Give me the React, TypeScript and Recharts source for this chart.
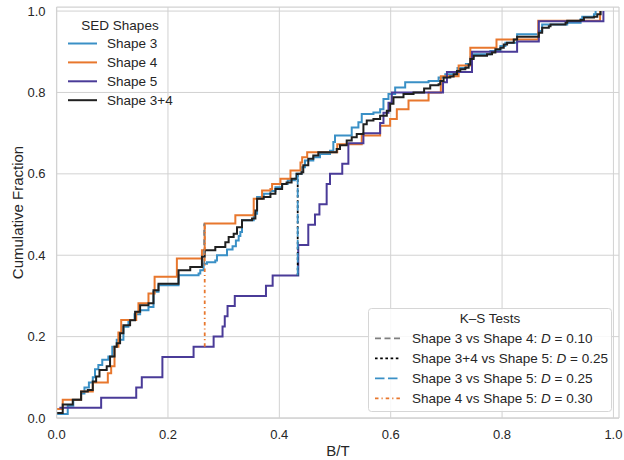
import React from 'react';
import { LineChart, Line, XAxis, YAxis, CartesianGrid, ReferenceLine } from 'recharts';

const FONT = '"Liberation Sans", Arial, Helvetica, sans-serif';
const TEXT = '#262626';
const GRID = '#d2d2d2';

// Tick labels
const xTicks = [0, 0.2, 0.4, 0.6, 0.8, 1.0];
const yTicks = [0, 0.2, 0.4, 0.6, 0.8, 1.0];

// Series names / colours
const seriesNames = ['Shape 3', 'Shape 4', 'Shape 5', 'Shape 3+4'];
const seriesColors = ['#3a90c6', '#e8772d', '#4a3b98', '#202020'];

// Shape 3 ECDF steps
const shape3X = [0.0, 0.02, 0.03, 0.044, 0.05, 0.058, 0.065, 0.069, 0.075, 0.082, 0.093, 0.1, 0.108, 0.12, 0.129, 0.14, 0.15, 0.165, 0.174, 0.183, 0.219, 0.255, 0.258, 0.264, 0.27, 0.285, 0.288, 0.306, 0.316, 0.322, 0.327, 0.33, 0.333, 0.354, 0.36, 0.372, 0.384, 0.393, 0.405, 0.415, 0.428, 0.431, 0.44, 0.446, 0.461, 0.473, 0.491, 0.497, 0.5, 0.53, 0.542, 0.548, 0.569, 0.581, 0.587, 0.596, 0.608, 0.626, 0.668, 0.686, 0.698, 0.72, 0.735, 0.743, 0.749, 0.779, 0.797, 0.806, 0.827, 0.866, 0.872, 0.917, 0.941, 0.944, 0.965, 0.968];
const shape3Y = [0.01, 0.03, 0.045, 0.06, 0.075, 0.087, 0.1, 0.12, 0.13, 0.143, 0.151, 0.175, 0.192, 0.224, 0.241, 0.255, 0.265, 0.273, 0.31, 0.326, 0.351, 0.355, 0.363, 0.379, 0.383, 0.387, 0.4, 0.414, 0.422, 0.436, 0.447, 0.457, 0.486, 0.502, 0.543, 0.551, 0.558, 0.567, 0.575, 0.584, 0.588, 0.6, 0.616, 0.633, 0.641, 0.649, 0.657, 0.678, 0.694, 0.714, 0.727, 0.747, 0.751, 0.759, 0.784, 0.796, 0.812, 0.825, 0.828, 0.837, 0.845, 0.86, 0.87, 0.886, 0.894, 0.902, 0.914, 0.922, 0.943, 0.951, 0.967, 0.971, 0.98, 0.986, 0.992, 1.0];

// Shape 4 ECDF steps
const shape4X = [0.0, 0.011, 0.044, 0.065, 0.092, 0.098, 0.104, 0.111, 0.116, 0.143, 0.147, 0.165, 0.176, 0.216, 0.261, 0.266, 0.321, 0.354, 0.369, 0.384, 0.387, 0.402, 0.42, 0.438, 0.441, 0.45, 0.504, 0.548, 0.581, 0.599, 0.611, 0.632, 0.668, 0.69, 0.722, 0.743, 0.79, 0.865, 0.976];
const shape4Y = [0.022, 0.045, 0.065, 0.087, 0.11, 0.127, 0.175, 0.21, 0.241, 0.26, 0.282, 0.306, 0.347, 0.392, 0.412, 0.478, 0.498, 0.539, 0.559, 0.563, 0.575, 0.588, 0.608, 0.628, 0.641, 0.653, 0.673, 0.694, 0.718, 0.735, 0.759, 0.78, 0.8, 0.84, 0.866, 0.91, 0.93, 0.976, 1.0];

// Shape 5 ECDF steps
const shape5X = [0.005, 0.08, 0.143, 0.153, 0.19, 0.246, 0.282, 0.298, 0.302, 0.307, 0.32, 0.376, 0.388, 0.434, 0.452, 0.464, 0.472, 0.485, 0.491, 0.513, 0.524, 0.551, 0.581, 0.587, 0.596, 0.602, 0.694, 0.701, 0.746, 0.827, 0.866, 0.982];
const shape5Y = [0.025, 0.05, 0.075, 0.1, 0.15, 0.175, 0.2, 0.225, 0.25, 0.275, 0.3, 0.325, 0.35, 0.425, 0.475, 0.5, 0.525, 0.575, 0.6, 0.625, 0.675, 0.7, 0.725, 0.75, 0.775, 0.8, 0.825, 0.85, 0.9, 0.925, 0.975, 1.0];

// Shape 3+4 ECDF steps
const shape34X = [0.0, 0.011, 0.029, 0.044, 0.056, 0.065, 0.071, 0.077, 0.09, 0.096, 0.104, 0.108, 0.114, 0.12, 0.132, 0.141, 0.15, 0.165, 0.174, 0.183, 0.219, 0.24, 0.261, 0.266, 0.285, 0.303, 0.309, 0.318, 0.324, 0.333, 0.351, 0.357, 0.36, 0.372, 0.384, 0.393, 0.405, 0.413, 0.422, 0.431, 0.44, 0.443, 0.452, 0.461, 0.47, 0.503, 0.509, 0.521, 0.53, 0.539, 0.551, 0.557, 0.569, 0.581, 0.593, 0.599, 0.605, 0.623, 0.641, 0.66, 0.671, 0.686, 0.689, 0.695, 0.707, 0.713, 0.719, 0.725, 0.734, 0.74, 0.743, 0.749, 0.773, 0.782, 0.788, 0.797, 0.803, 0.809, 0.821, 0.827, 0.866, 0.872, 0.884, 0.887, 0.914, 0.917, 0.941, 0.947, 0.965, 0.971, 0.977];
const shape34Y = [0.012, 0.033, 0.045, 0.065, 0.069, 0.09, 0.102, 0.118, 0.127, 0.151, 0.175, 0.184, 0.208, 0.228, 0.24, 0.261, 0.277, 0.282, 0.314, 0.33, 0.363, 0.371, 0.396, 0.412, 0.42, 0.432, 0.445, 0.453, 0.469, 0.486, 0.49, 0.51, 0.539, 0.543, 0.551, 0.563, 0.575, 0.579, 0.588, 0.6, 0.604, 0.621, 0.637, 0.645, 0.653, 0.661, 0.67, 0.682, 0.69, 0.698, 0.722, 0.731, 0.735, 0.743, 0.755, 0.772, 0.788, 0.796, 0.8, 0.81, 0.818, 0.82, 0.828, 0.837, 0.839, 0.845, 0.853, 0.857, 0.861, 0.869, 0.882, 0.89, 0.894, 0.898, 0.906, 0.91, 0.918, 0.922, 0.93, 0.937, 0.947, 0.959, 0.963, 0.967, 0.971, 0.976, 0.978, 0.984, 0.986, 0.992, 1.0];

// K-S tests
const ksLabels = ['Shape 3 vs Shape 4', 'Shape 3+4 vs Shape 5', 'Shape 3 vs Shape 5', 'Shape 4 vs Shape 5'];
const ksD = ['0.10', '0.25', '0.25', '0.30'];
const ksX = [0.265, 0.433, 0.433, 0.266];
const ksLo = [0.378, 0.35, 0.35, 0.175];
const ksHi = [0.478, 0.6, 0.6, 0.478];
const ksColors = ['#7f7f7f', '#000000', '#3a90c6', '#e8772d'];
const ksDash = ['6 3.5', '2.6 2.6', '9.5 3.5', '3.5 3 1.2 3'];

const zip = (xs: number[], ys: number[]) => xs.map((x, i) => ({ x, y: ys[i] }));

const seriesData = [zip(shape3X, shape3Y), zip(shape4X, shape4Y), zip(shape5X, shape5Y), zip(shape34X, shape34Y)];

const fmt = (v: number) => v.toFixed(1);

export default function App() {
  return (
    <div style={{ position: 'absolute', left: 0, top: 0, width: 624, height: 460, background: '#fff' }}>
      <LineChart width={624} height={460} margin={{ top: 7, right: 5, bottom: 0, left: 0 }}>
        <CartesianGrid stroke={GRID} strokeWidth={1} horizontalValues={yTicks} verticalValues={xTicks} />
        <XAxis
          type="number"
          dataKey="x"
          domain={[0, 1.01]}
          ticks={xTicks}
          tickFormatter={fmt}
          allowDataOverflow
          height={42}
          tickSize={0}
          tickMargin={12}
          axisLine={{ stroke: GRID, strokeWidth: 1.25 }}
          tick={{ fill: TEXT, fontSize: 13, fontFamily: FONT }}
        />
        <YAxis
          type="number"
          dataKey="y"
          domain={[0, 1.01]}
          ticks={yTicks}
          tickFormatter={fmt}
          allowDataOverflow
          width={56.6}
          tickSize={0}
          tickMargin={11}
          axisLine={{ stroke: GRID, strokeWidth: 1.25 }}
          tick={{ fill: TEXT, fontSize: 13, fontFamily: FONT }}
        />
        <ReferenceLine y={1.01} stroke={GRID} strokeWidth={1.25} />
        <ReferenceLine x={1.01} stroke={GRID} strokeWidth={1.25} />
        {seriesData.map((d, i) => (
          <Line
            key={seriesNames[i]}
            data={d}
            dataKey="y"
            type="stepAfter"
            stroke={seriesColors[i]}
            strokeWidth={2}
            dot={false}
            activeDot={false}
            isAnimationActive={false}
          />
        ))}
        {ksLabels.map((lab, i) => (
          <Line
            key={lab}
            data={[{ x: ksX[i], y: ksLo[i] }, { x: ksX[i], y: ksHi[i] }]}
            dataKey="y"
            type="linear"
            stroke={ksColors[i]}
            strokeWidth={1.8}
            strokeDasharray={ksDash[i]}
            dot={false}
            activeDot={false}
            isAnimationActive={false}
          />
        ))}
      </LineChart>
      <svg width={624} height={460} style={{ position: 'absolute', left: 0, top: 0, pointerEvents: 'none' }} fontFamily={FONT}>
        <text x={23} y={212.5} transform="rotate(-90 23 212.5)" textAnchor="middle" fontSize={15} fill={TEXT}>
          Cumulative Fraction
        </text>
        <text x={338} y={456} textAnchor="middle" fontSize={15} fill={TEXT}>
          B/T
        </text>
        {/* SED Shapes legend */}
        <text x={120} y={29.5} textAnchor="middle" fontSize={13.5} fill={TEXT}>
          SED Shapes
        </text>
        {seriesNames.map((n, i) => {
          const y = 43.5 + i * 18.9;
          return (
            <g key={n}>
              <line x1={68} x2={97} y1={y} y2={y} stroke={seriesColors[i]} strokeWidth={2} />
              <text x={107} y={y + 4.7} fontSize={13.5} fill={TEXT}>
                {n}
              </text>
            </g>
          );
        })}
        {/* K-S legend */}
        <rect x={368.5} y={308.5} width={243} height={103} rx={3} fill="#ffffff" fillOpacity={0.85} stroke="#d6d6d6" strokeWidth={1} />
        <text x={490} y={322.8} textAnchor="middle" fontSize={13.5} fill={TEXT}>
          K–S Tests
        </text>
        {ksLabels.map((lab, i) => {
          const y = 338.3 + i * 20;
          return (
            <g key={lab}>
              <line x1={375} x2={400} y1={y} y2={y} stroke={ksColors[i]} strokeWidth={1.8} strokeDasharray={ksDash[i]} />
              <text x={412} y={y + 4.7} fontSize={13.5} fill={TEXT}>
                {lab}: <tspan fontStyle="italic">D</tspan> = {ksD[i]}
              </text>
            </g>
          );
        })}
      </svg>
    </div>
  );
}
